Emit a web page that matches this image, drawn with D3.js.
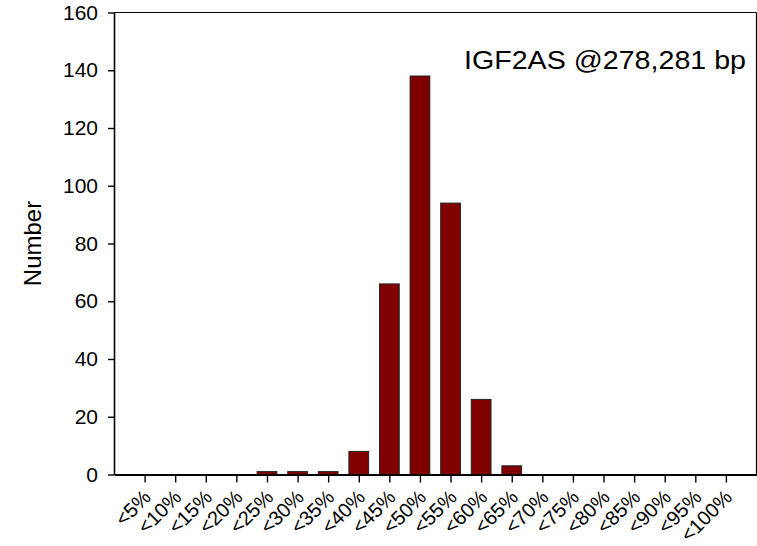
<!DOCTYPE html>
<html>
<head>
<meta charset="utf-8">
<script src="https://cdn.jsdelivr.net/npm/d3@7"></script>
<style>
  html, body { margin: 0; padding: 0; background: #fff; }
  svg { display: block; font-family: "Liberation Sans", Arial, sans-serif; }
</style>
</head>
<body>
<script>
// Histogram of methylation bins
const categories = ["<5%", "<10%", "<15%", "<20%", "<25%", "<30%", "<35%", "<40%", "<45%", "<50%",
                    "<55%", "<60%", "<65%", "<70%", "<75%", "<80%", "<85%", "<90%", "<95%", "<100%"];
const counts = [0, 0, 0, 0, 1, 1, 1, 8, 66, 138, 94, 26, 3, 0, 0, 0, 0, 0, 0, 0];
const yTicks = [0, 20, 40, 60, 80, 100, 120, 140, 160];
const annotation = "IGF2AS @278,281 bp";
const yTitle = "Number";

const W = 757, H = 546;
const margin = { left: 114, right: 0.5, top: 12.5, bottom: 71.5 };
const plotW = W - margin.left - margin.right;
const plotH = H - margin.top - margin.bottom;

const svg = d3.select("body").append("svg")
  .attr("width", W).attr("height", H);

const g = svg.append("g").attr("transform", `translate(${margin.left},${margin.top})`);

// Bins sit at positions 1..20 on a 0..21 axis
const x = d3.scaleLinear().domain([0, categories.length + 1]).range([0, plotW]);
const y = d3.scaleLinear().domain([0, 160]).range([plotH, 0]);
const step = x(1) - x(0);
const barW = step * 0.645;

// Frame (top and right)
g.append("line").attr("x1", 0).attr("x2", plotW).attr("y1", 0).attr("y2", 0)
  .attr("stroke", "#000").attr("stroke-width", 1.2);
g.append("line").attr("x1", plotW).attr("x2", plotW).attr("y1", 0).attr("y2", plotH)
  .attr("stroke", "#000").attr("stroke-width", 1.2);

// Bars
g.selectAll("rect.bar").data(counts).join("rect")
  .attr("class", "bar")
  .attr("x", (d, i) => x(i + 1) - barW / 2)
  .attr("width", barW)
  .attr("y", d => y(d))
  .attr("height", d => y(0) - y(d))
  .attr("fill", "#800000")
  .attr("stroke", "#222")
  .attr("stroke-width", 1)
  .style("display", d => d > 0 ? null : "none");

// Y axis
const yAxis = g.append("g")
  .call(d3.axisLeft(y).tickValues(yTicks).tickSize(6).tickPadding(10).tickSizeOuter(0));
yAxis.select(".domain").attr("stroke-width", 1.6);
yAxis.selectAll(".tick line").attr("stroke-width", 1.4);
yAxis.selectAll(".tick text")
  .attr("font-size", 21)
  .attr("font-family", "Liberation Sans, Arial, sans-serif")
  .attr("fill", "#000");

// X axis
const xAxis = g.append("g").attr("transform", `translate(0,${plotH})`)
  .call(d3.axisBottom(x)
    .tickValues(d3.range(1, categories.length + 1))
    .tickFormat(d => categories[d - 1])
    .tickSize(8).tickSizeOuter(0));
xAxis.select(".domain").attr("stroke-width", 2.2);
xAxis.selectAll(".tick line").attr("stroke-width", 1.4);
xAxis.selectAll(".tick text")
  .attr("font-size", 20)
  .attr("font-family", "Liberation Sans, Arial, sans-serif")
  .attr("fill", "#000")
  .attr("text-anchor", "end")
  .attr("dy", null)
  .attr("y", 0)
  .attr("x", 0)
  .attr("transform", "translate(7,24) rotate(-45)");

// Y axis title
svg.append("text")
  .attr("transform", `translate(41,${margin.top + plotH / 2}) rotate(-90)`)
  .attr("text-anchor", "middle")
  .attr("font-size", 24)
  .attr("fill", "#000")
  .text(yTitle);

// Annotation
svg.append("text")
  .attr("x", 464).attr("y", 69)
  .attr("font-size", 25)
  .attr("textLength", 282)
  .attr("lengthAdjust", "spacingAndGlyphs")
  .attr("fill", "#000")
  .text(annotation);
</script>
</body>
</html>
